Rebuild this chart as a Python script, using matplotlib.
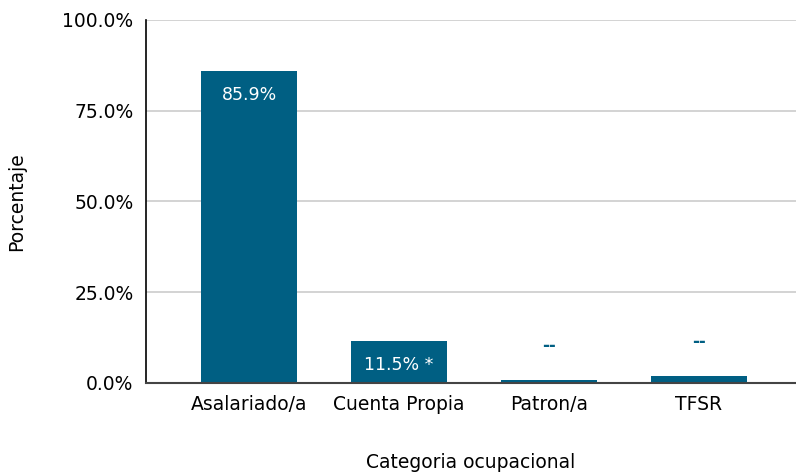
import matplotlib.pyplot as plt
import numpy as np

categorias = ["Asalariado/a", "Cuenta Propia", "Patron/a", "TFSR"]
porcentajes = [85.9, 11.5, 0.7, 2.0]
etiquetas = ["85.9%", "11.5% *", "--", "--"]
dentro = [True, True, False, False]

color_barra = "#005f83"

fig = plt.figure(figsize=(7.96, 4.75), dpi=100)
ax = fig.add_axes([0.1834, 0.1937, 0.8166, 0.7642])

x = np.arange(len(categorias))
bars = ax.bar(x, porcentajes, width=0.64, color=color_barra, zorder=3)

for b, val, txt, inside in zip(bars, porcentajes, etiquetas, dentro):
    cx = b.get_x() + b.get_width() / 2
    if inside:
        ax.annotate(txt, (cx, val), xytext=(0, -24), textcoords="offset pixels",
                    ha="center", va="center", color="white", fontsize=12.5, zorder=4)
    else:
        ax.annotate(txt, (cx, val), xytext=(0, 34), textcoords="offset pixels",
                    ha="center", va="center", color=color_barra, fontsize=12,
                    fontweight="bold", zorder=4)

ax.set_xlim(-0.69, 3.65)
ax.set_ylim(0, 100)
ax.set_yticks([0, 25, 50, 75, 100])
ax.set_yticklabels(["0.0%", "25.0%", "50.0%", "75.0%", "100.0%"])
ax.set_xticks(x)
ax.set_xticklabels(categorias)
ax.tick_params(axis="both", length=0, labelsize=13.5, colors="black")
ax.tick_params(axis="y", pad=9)
ax.tick_params(axis="x", pad=9)

ax.yaxis.grid(True, color="#cccccc", linewidth=1.2, zorder=0)
ax.spines["top"].set_visible(False)
ax.spines["right"].set_visible(False)
ax.spines["left"].set_color("black")
ax.spines["left"].set_linewidth(1.2)
ax.spines["bottom"].set_color("#444444")
ax.spines["bottom"].set_linewidth(1.5)
ax.spines["bottom"].set_zorder(5)

ax.set_ylabel("Porcentaje", fontsize=13.5, labelpad=26)
ax.set_xlabel("Categoria ocupacional", fontsize=13.5, labelpad=28)

fig.savefig("out.png", dpi=100)
